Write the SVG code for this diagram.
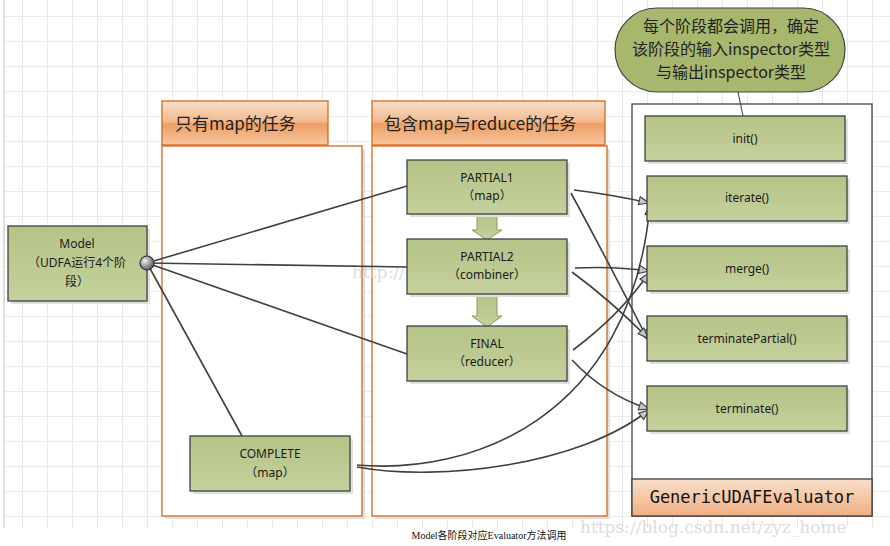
<svg xmlns="http://www.w3.org/2000/svg" width="890" height="546" viewBox="0 0 890 546">
<defs>
<pattern id="grid" x="22" y="16" width="25" height="25" patternUnits="userSpaceOnUse">
<path d="M0,0 V25 M0,0 H25" fill="none" stroke="#dadada" stroke-width="1.2"/>
</pattern>
<linearGradient id="green" x1="0" y1="0" x2="0" y2="1">
<stop offset="0" stop-color="#b4c386"/>
<stop offset="1" stop-color="#c4d19d"/>
</linearGradient>
<linearGradient id="orange" x1="0" y1="0" x2="0" y2="1">
<stop offset="0" stop-color="#f9dfca"/>
<stop offset="0.48" stop-color="#f2b88c"/>
<stop offset="0.52" stop-color="#ec9d63"/>
<stop offset="1" stop-color="#f8c7a0"/>
</linearGradient>
<linearGradient id="foot" x1="0" y1="0" x2="0" y2="1">
<stop offset="0" stop-color="#f9dfcb"/>
<stop offset="1" stop-color="#f0af80"/>
</linearGradient>
<radialGradient id="ball" cx="0.35" cy="0.35" r="0.7">
<stop offset="0" stop-color="#f0f0f0"/>
<stop offset="1" stop-color="#555"/>
</radialGradient>
<marker id="arr" viewBox="0 0 12 10" refX="11" refY="5" markerWidth="12" markerHeight="10" markerUnits="userSpaceOnUse" orient="auto">
<path d="M1,1 L11,5 L1,9 Z" fill="#c8c8c8" stroke="#444" stroke-width="1.2"/>
</marker>
<style>
.box{fill:url(#green);stroke:#404040;stroke-width:1.3}
.sh{fill:#e0e0e0}
.t{font-family:"Noto Sans","Noto Sans CJK SC",sans-serif;font-size:12px;fill:#1a1a1a;text-anchor:middle}
.hd{font-family:"Noto Sans CJK SC","Noto Sans",sans-serif;font-size:16px;fill:#222}
.hd2{font-family:"Noto Sans CJK SC","Noto Sans",sans-serif;font-size:17px;fill:#222}
.cont{fill:#fff;stroke:#d2691e;stroke-width:1.3}
.hdr{fill:url(#orange);stroke:#d2691e;stroke-width:1.3}
.ln{fill:none;stroke:#404040;stroke-width:1.6}
.wm{font-family:"DejaVu Serif",serif;font-size:17px;fill:#d0d0d0;opacity:0.7}
</style>
</defs>
<rect x="0" y="0" width="890" height="546" fill="#fff"/>
<rect x="4" y="0" width="886" height="528" fill="url(#grid)"/>
<line x1="4" y1="0" x2="4" y2="528" stroke="#d6d6d6" stroke-width="1.5"/>

<g id="container-map">
<rect x="165" y="149" width="200" height="370" class="sh"/>
<rect x="162" y="146" width="200" height="370" class="cont"/>
<rect x="162" y="101" width="166" height="44" class="hdr"/>
<text x="175" y="130" class="hd2">只有map的任务</text>
</g>
<g id="container-reduce">
<rect x="375" y="149" width="235" height="370" class="sh"/>
<rect x="372" y="146" width="235" height="370" class="cont"/>
<rect x="372" y="101" width="233" height="44" class="hdr"/>
<text x="384" y="130" class="hd2">包含map与reduce的任务</text>
</g>
<g id="evaluator">
<rect x="632" y="104" width="240" height="412" fill="#fff" stroke="#404040" stroke-width="1.3"/>
<rect x="632" y="479" width="240" height="37" fill="url(#foot)" stroke="#404040" stroke-width="1.3"/>
<text x="752" y="503" font-family="DejaVu Sans Mono,monospace" font-size="17" fill="#111" text-anchor="middle">GenericUDAFEvaluator</text>
</g>

<text x="352" y="278" class="wm">http://</text>

<g id="connectors">
<line x1="147" y1="263" x2="407" y2="186" class="ln"/>
<line x1="147" y1="263" x2="407" y2="267" class="ln"/>
<line x1="147" y1="263" x2="407" y2="354" class="ln"/>
<line x1="147" y1="263" x2="242" y2="436" class="ln"/>
<path d="M574,190 Q615,195 649,203" class="ln" marker-end="url(#arr)"/>
<path d="M571,193 Q610,265 648,340" class="ln" marker-end="url(#arr)"/>
<path d="M575,268 Q615,266 649,271" class="ln" marker-end="url(#arr)"/>
<path d="M572,272 Q610,300 648,338" class="ln" marker-end="url(#arr)"/>
<path d="M573,350 Q620,315 649,273" class="ln" marker-end="url(#arr)"/>
<path d="M572,360 Q605,395 649,409" class="ln" marker-end="url(#arr)"/>
<path d="M357,465 C470,475 630,420 650,205" class="ln" marker-end="url(#arr)"/>
<path d="M357,467 C440,482 580,465 649,410" class="ln" marker-end="url(#arr)"/>
<line x1="738" y1="92" x2="743" y2="116" stroke="#555" stroke-width="1.2"/>
</g>

<g id="model">
<rect x="11" y="229" width="139" height="75" class="sh"/>
<rect x="8" y="226" width="139" height="75" class="box"/>
<text x="77" y="248" class="t">Model</text>
<text x="77" y="267" class="t">（UDFA运行4个阶</text>
<text x="77" y="286" class="t">段）</text>
<circle cx="147" cy="263" r="7" fill="url(#ball)" stroke="#333" stroke-width="1.2"/>
</g>

<g id="arrow-p1-p2">
<path d="M477,214 H497 V230 H502 L487,240 L472,230 H477 Z" fill="url(#green)" stroke="#8a9a60" stroke-width="1"/>
</g>
<g id="arrow-p2-final">
<path d="M477,294 H497 V316 H502 L487,327 L472,316 H477 Z" fill="url(#green)" stroke="#8a9a60" stroke-width="1"/>
</g>

<g id="partial1">
<rect x="410" y="163" width="160" height="54" class="sh"/>
<rect x="407" y="160" width="160" height="54" class="box"/>
<text x="487" y="182" class="t">PARTIAL1</text>
<text x="487" y="200" class="t">（map）</text>
</g>
<g id="partial2">
<rect x="410" y="242" width="160" height="55" class="sh"/>
<rect x="407" y="239" width="160" height="55" class="box"/>
<text x="487" y="261" class="t">PARTIAL2</text>
<text x="487" y="279" class="t">（combiner）</text>
</g>
<g id="final">
<rect x="410" y="329" width="160" height="55" class="sh"/>
<rect x="407" y="326" width="160" height="55" class="box"/>
<text x="487" y="348" class="t">FINAL</text>
<text x="487" y="366" class="t">（reducer）</text>
</g>
<g id="complete">
<rect x="193" y="439" width="160" height="55" class="sh"/>
<rect x="190" y="436" width="160" height="55" class="box"/>
<text x="270" y="458" class="t">COMPLETE</text>
<text x="270" y="477" class="t">（map）</text>
</g>

<g id="init">
<rect x="648" y="119" width="200" height="45" class="sh"/>
<rect x="645" y="116" width="200" height="45" class="box"/>
<text x="745" y="143" class="t">init()</text>
</g>
<g id="iterate">
<rect x="650" y="179" width="200" height="45" class="sh"/>
<rect x="647" y="176" width="200" height="45" class="box"/>
<text x="747" y="202" class="t">iterate()</text>
</g>
<g id="merge">
<rect x="650" y="249" width="200" height="45" class="sh"/>
<rect x="647" y="246" width="200" height="45" class="box"/>
<text x="747" y="273" class="t">merge()</text>
</g>
<g id="terminatePartial">
<rect x="650" y="319" width="200" height="45" class="sh"/>
<rect x="647" y="316" width="200" height="45" class="box"/>
<text x="747" y="343" class="t">terminatePartial()</text>
</g>
<g id="terminate">
<rect x="650" y="389" width="200" height="45" class="sh"/>
<rect x="647" y="386" width="200" height="45" class="box"/>
<text x="747" y="413" class="t">terminate()</text>
</g>

<g id="callout">
<rect x="615" y="8" width="230" height="84" rx="42" ry="42" fill="#a8b76e" stroke="#444" stroke-width="1.2"/>
<text x="731" y="32" class="hd" text-anchor="middle">每个阶段都会调用，确定</text>
<text x="731" y="55" class="hd" text-anchor="middle">该阶段的输入inspector类型</text>
<text x="731" y="78" class="hd" text-anchor="middle">与输出inspector类型</text>
</g>

<text x="580" y="533" class="wm">https://blog.csdn.net/zyz_home</text>
<text x="489" y="539" font-family="Liberation Serif,Noto Sans CJK SC,serif" font-size="10" fill="#111" text-anchor="middle">Model各阶段对应Evaluator方法调用</text>
</svg>
